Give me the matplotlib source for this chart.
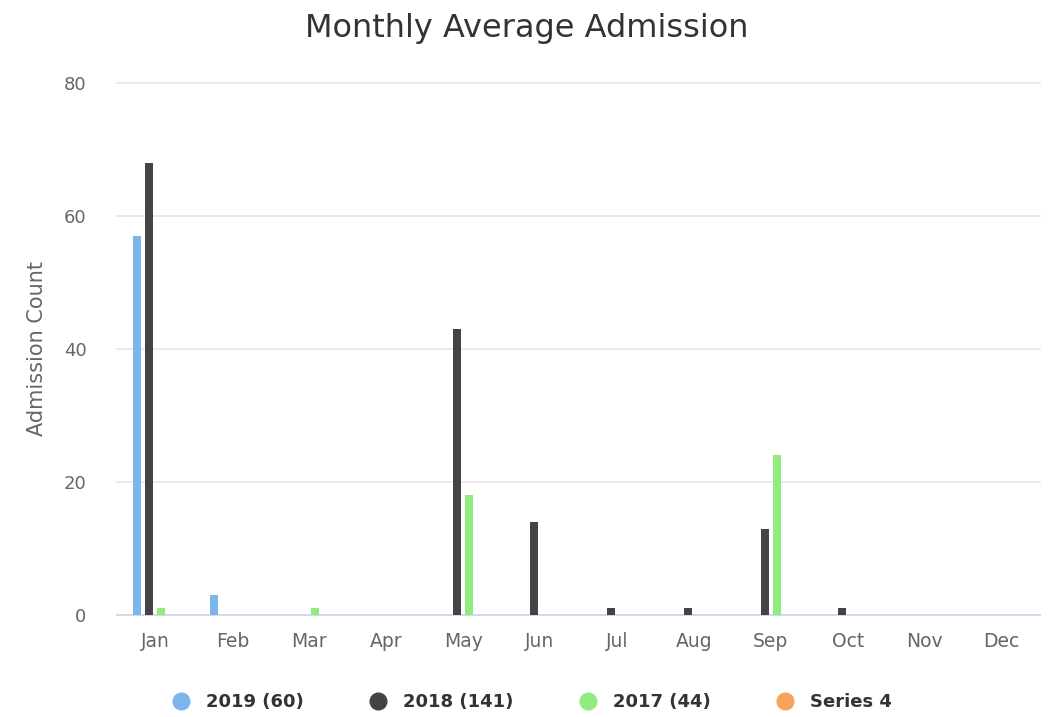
import matplotlib
matplotlib.use('Agg')
import matplotlib.pyplot as plt
from matplotlib.lines import Line2D
import numpy as np

months = ['Jan', 'Feb', 'Mar', 'Apr', 'May', 'Jun', 'Jul', 'Aug', 'Sep', 'Oct', 'Nov', 'Dec']
series_names = ['2019 (60)', '2018 (141)', '2017 (44)', 'Series 4']
vals_2019 = [57, 3, 0, 0, 0, 0, 0, 0, 0, 0, 0, 0]
vals_2018 = [68, 0, 0, 0, 43, 14, 1, 1, 13, 1, 0, 0]
vals_2017 = [1, 0, 1, 0, 18, 0, 0, 0, 24, 0, 0, 0]
vals_s4 = [0, 0, 0, 0, 0, 0, 0, 0, 0, 0, 0, 0]
colors = ['#7cb5ec', '#434348', '#90ed7d', '#f7a35c']

fig = plt.figure(figsize=(10.53, 7.17), dpi=100)
ax = fig.add_axes([117 / 1053, 1 - 615 / 717, (1040 - 117) / 1053, (615 - 83) / 717])

x = np.arange(len(months))
offsets = [-0.234, -0.078, 0.078, 0.234]
width = 0.104
for vals, off, col in zip([vals_2019, vals_2018, vals_2017, vals_s4], offsets, colors):
    ax.bar(x + off, vals, width=width, color=col, linewidth=0, zorder=3)

ax.set_xlim(-0.5, 11.5)
ax.set_ylim(0, 80)
ax.set_yticks([0, 20, 40, 60, 80])
ax.set_xticks(x)
ax.set_xticklabels(months)
ax.grid(axis='y', color='#e6e6e6', linewidth=1.2, zorder=0)
for gl in ax.get_ygridlines():
    gl.set_clip_on(False)
for s in ['top', 'right', 'left']:
    ax.spines[s].set_visible(False)
ax.spines['bottom'].set_color('#ccd6eb')
ax.spines['bottom'].set_linewidth(1.2)
ax.tick_params(axis='y', length=0, pad=22, labelsize=13, labelcolor='#666666')
ax.tick_params(axis='x', length=0, pad=12, labelsize=13.5, labelcolor='#666666')
ax.set_ylabel('Admission Count', fontsize=15, color='#666666', labelpad=12)

fig.suptitle('Monthly Average Admission', y=1 - 28 / 717, va='center', fontsize=23, color='#333333')

handles = [Line2D([0], [0], marker='o', linestyle='', markersize=12, markerfacecolor=c,
                  markeredgecolor=c) for c in colors]
leg = fig.legend(handles, series_names, loc='center', bbox_to_anchor=(0.505, 1 - 702 / 717),
                 ncol=4, frameon=False, handletextpad=0.9, columnspacing=3.6, handlelength=1.0,
                 prop={'size': 13, 'weight': 'bold'})
for t in leg.get_texts():
    t.set_color('#333333')

fig.savefig('out.png', dpi=100)
